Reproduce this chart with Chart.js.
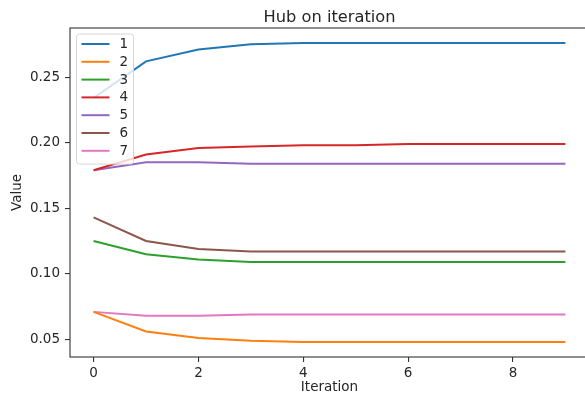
<!DOCTYPE html>
<html>
<head>
<meta charset="utf-8">
<script src="https://cdn.jsdelivr.net/npm/chart.js@4.4.0/dist/chart.umd.min.js"></script>
<style>
  html, body { margin: 0; padding: 0; background: #fff; overflow: hidden; }
  #wrap { width: 592px; height: 396px; position: relative; }
</style>
</head>
<body>
<div id="wrap"><canvas id="hub"></canvas></div>
<script>
// data
const iterations = [0, 1, 2, 3, 4, 5, 6, 7, 8, 9];
const seriesNames = ['1', '2', '3', '4', '5', '6', '7'];
const hub1 = [0.234, 0.262, 0.271, 0.275, 0.276, 0.276, 0.276, 0.276, 0.276, 0.276];
const hub2 = [0.071, 0.056, 0.051, 0.049, 0.048, 0.048, 0.048, 0.048, 0.048, 0.048];
const hub3 = [0.125, 0.115, 0.111, 0.109, 0.109, 0.109, 0.109, 0.109, 0.109, 0.109];
const hub4 = [0.179, 0.191, 0.196, 0.197, 0.198, 0.198, 0.199, 0.199, 0.199, 0.199];
const hub5 = [0.179, 0.185, 0.185, 0.184, 0.184, 0.184, 0.184, 0.184, 0.184, 0.184];
const hub6 = [0.143, 0.125, 0.119, 0.117, 0.117, 0.117, 0.117, 0.117, 0.117, 0.117];
const hub7 = [0.071, 0.068, 0.068, 0.069, 0.069, 0.069, 0.069, 0.069, 0.069, 0.069];
const xTicks = [0, 2, 4, 6, 8];
const yTicks = [0.05, 0.10, 0.15, 0.20, 0.25];

const allSeries = [hub1, hub2, hub3, hub4, hub5, hub6, hub7];
const colors = ['#1f77b4', '#ff7f0e', '#2ca02c', '#d62728', '#9467bd', '#8c564b', '#e377c2'];
const FONT = "'DejaVu Sans', sans-serif";
const TEXT = '#262626';

// frame, title and an in-plot legend like matplotlib's
const mplDecor = {
  id: 'mplDecor',
  afterDatasetsDraw(chart) {
    const { ctx, chartArea: ca } = chart;
    ctx.save();
    // legend
    const fs = 13.5;
    const bx = ca.left + 6.5, by = ca.top + 6;
    const rowH = 17.8;
    const n = chart.data.datasets.length;
    const bw = 57, bh = n * rowH + 5.5;
    ctx.beginPath();
    ctx.roundRect(bx, by, bw, bh, 3);
    ctx.fillStyle = 'rgba(255,255,255,0.8)';
    ctx.fill();
    ctx.strokeStyle = '#d6d6d6';
    ctx.lineWidth = 1;
    ctx.stroke();
    ctx.font = fs + 'px ' + FONT;
    ctx.textBaseline = 'middle';
    ctx.textAlign = 'left';
    chart.data.datasets.forEach((ds, i) => {
      const y = by + 10 + i * rowH;
      ctx.beginPath();
      ctx.moveTo(bx + 5, y);
      ctx.lineTo(bx + 33, y);
      ctx.strokeStyle = ds.borderColor;
      ctx.lineWidth = 2;
      ctx.stroke();
      ctx.fillStyle = TEXT;
      ctx.fillText(ds.label, bx + 43, y + 0.5);
    });
    // frame
    ctx.strokeStyle = '#333';
    ctx.lineWidth = 1.1;
    ctx.strokeRect(ca.left, ca.top, ca.right - ca.left, ca.bottom - ca.top);
    // title
    ctx.fillStyle = TEXT;
    ctx.font = '16.25px ' + FONT;
    ctx.textAlign = 'center';
    ctx.textBaseline = 'alphabetic';
    ctx.fillText('Hub on iteration', (ca.left + ca.right) / 2, 21.5);
    ctx.restore();
  }
};

new Chart(document.getElementById('hub'), {
  type: 'line',
  data: {
    datasets: allSeries.map((vals, i) => ({
      label: seriesNames[i],
      data: iterations.map((it, k) => ({ x: it, y: vals[k] })),
      borderColor: colors[i],
      backgroundColor: colors[i],
      borderWidth: 2,
      pointRadius: 0,
      tension: 0,
      fill: false
    }))
  },
  options: {
    responsive: true,
    maintainAspectRatio: false,
    animation: false,
    layout: { padding: { top: 28, right: 3, left: 0, bottom: 0 } },
    plugins: { legend: { display: false }, title: { display: false }, tooltip: { enabled: false } },
    scales: {
      x: {
        type: 'linear',
        min: -0.45,
        max: 9.45,
        afterFit: s => { s.height = 39; },
        afterBuildTicks: s => { s.ticks = xTicks.map(v => ({ value: v })); },
        grid: { drawOnChartArea: false, drawTicks: true, tickLength: 5, color: '#333', lineWidth: 1.1 },
        border: { display: false },
        ticks: { color: TEXT, font: { family: FONT, size: 13.5 }, padding: 3.5, maxRotation: 0, callback: v => String(v) },
        title: { display: true, text: 'Iteration', color: TEXT, font: { family: FONT, size: 13.5 }, padding: { top: 0, bottom: 0 } }
      },
      y: {
        type: 'linear',
        min: 0.0366,
        max: 0.2874,
        afterFit: s => { s.width = 70; },
        afterBuildTicks: s => { s.ticks = yTicks.map(v => ({ value: v })); },
        grid: { drawOnChartArea: false, drawTicks: true, tickLength: 5, color: '#333', lineWidth: 1.1 },
        border: { display: false },
        ticks: { color: TEXT, font: { family: FONT, size: 13.5 }, padding: 5, callback: v => v.toFixed(2) },
        title: { display: true, text: 'Value', color: TEXT, font: { family: FONT, size: 13.5 }, padding: { top: 9, bottom: 0 } }
      }
    }
  },
  plugins: [mplDecor]
});
</script>
</body>
</html>
